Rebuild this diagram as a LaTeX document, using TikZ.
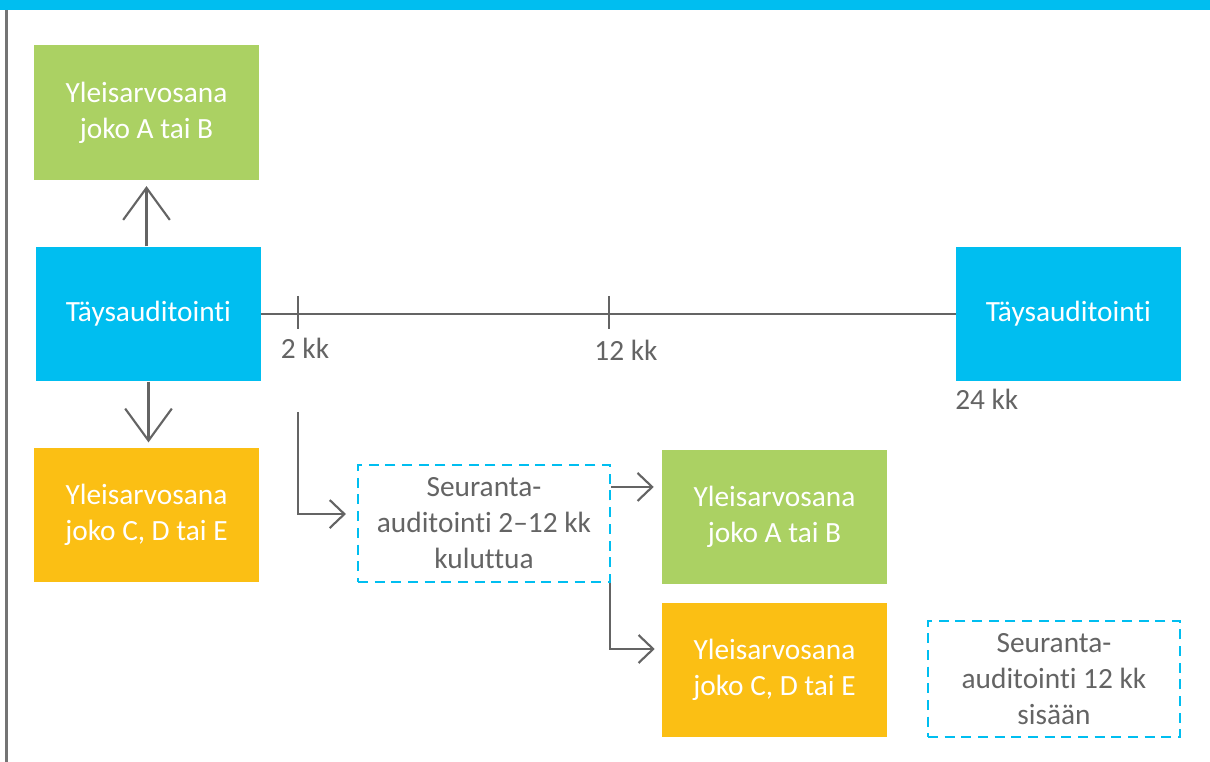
\documentclass[tikz,border=0pt]{standalone}
\usepackage{fontspec}
\setmainfont[Ligatures={NoCommon,NoRequired,NoContextual}]{Carlito}
\usetikzlibrary{arrows.meta,calc}
\definecolor{cyanc}{RGB}{0,190,240}
\definecolor{greenc}{RGB}{171,209,99}
\definecolor{orangec}{RGB}{251,191,20}
\definecolor{linec}{RGB}{100,100,100}
\definecolor{textc}{RGB}{100,100,100}
\tikzset{
  box/.style={minimum width=168.75pt, minimum height=101pt, inner sep=0pt, align=center, text=white,
    font=\fontsize{22}{27}\selectfont},
  greenbox/.style={box, fill=greenc},
  bluebox/.style={box, fill=cyanc},
  orangebox/.style={box, fill=orangec},
  dashbox/.style={box, draw=cyanc, line width=1.6pt, dash pattern=on 7.5pt off 5pt, text=textc,
    minimum width=189pt, minimum height=87.5pt},
  conn/.style={draw=linec, line width=1.6pt},
  bigarrow/.style={conn, -{Straight Barb[length=24pt, width=35pt, line width=1.6pt]}},
  smallarrow/.style={conn, -{Straight Barb[length=11pt, width=21pt, line width=1.6pt]}},
  lbl/.style={text=textc, font=\fontsize{22}{27}\selectfont, inner sep=0pt},
}
\begin{document}
\begin{tikzpicture}[x=0.75pt, y=-0.75pt]
\useasboundingbox (0,0) rectangle (1210,762);
\fill[cyanc] (0,0) rectangle (1210,10);
\draw[draw=linec!90, line width=2.25pt] (6,10) -- (6,762);

\node[greenbox] (g1) at (146.5,112.5) {Yleisarvosana\\joko A tai B};
\node[bluebox] (b1) at (148.5,314) {Täysauditointi};
\node[orangebox] (o1) at (146.5,515) {Yleisarvosana\\joko C, D tai E};
\node[bluebox] (b2) at (1068.5,314) {Täysauditointi};
\node[dashbox] (d1) at (484,523.5) {Seuranta-\\auditointi 2–12 kk\\kuluttua};
\node[greenbox] (g2) at (774.5,517) {Yleisarvosana\\joko A tai B};
\node[orangebox] (o2) at (774.5,670) {Yleisarvosana\\joko C, D tai E};
\node[dashbox] (d2) at (1054,679) {Seuranta-\\auditointi 12 kk\\sisään};

\coordinate (t2a) at (298,296);
\coordinate (t2b) at (298,329);
\coordinate (t12a) at (609,296);
\coordinate (t12b) at (609,329);
\coordinate (e1) at (298,412);

\node[lbl] (l2) at (305,348) {2 kk};
\node[lbl] (l12) at (626,350) {12 kk};
\node[lbl, anchor=west] (l24) at (955,399) {24 kk};

\draw[conn] (b1.east) -- (b2.west);
\draw[conn] (t2a) -- (t2b);
\draw[conn] (t12a) -- (t12b);

\draw[bigarrow, shorten >=4.5pt] (b1.north -| g1.south) -- (g1.south);
\draw[bigarrow, shorten >=3.75pt] (b1.south) -- (b1.south |- o1.north);

\draw[smallarrow, shorten >=8.25pt] (e1) |- ([yshift=7.1pt]d1.west);
\draw[smallarrow, shorten >=6pt] ([yshift=27.4pt]d1.east) -- ([yshift=27.4pt]d1.east -| g2.west);
\draw[smallarrow, shorten >=5.25pt] ([xshift=-0.75pt]d1.south east) |- ([yshift=15.75pt]o2.west);
\end{tikzpicture}
\end{document}
